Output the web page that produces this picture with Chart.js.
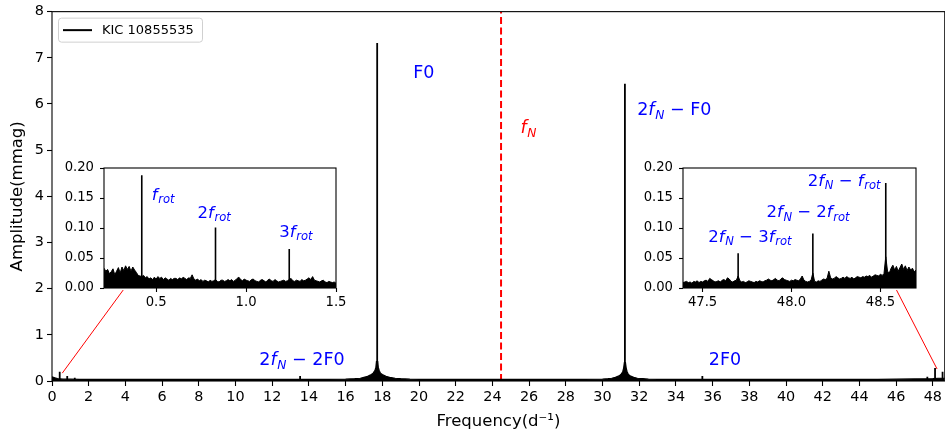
<!DOCTYPE html>
<html><head><meta charset="utf-8">
<script src="https://cdn.jsdelivr.net/npm/chart.js@4.4.0/dist/chart.umd.min.js"></script>
<style>
html,body{margin:0;padding:0;background:#fff;}
#wrap{position:relative;width:945px;height:435px;overflow:hidden;background:#fff;}
canvas{position:absolute;}
#main{left:0;top:0;width:945px;height:435px;}
#insL{left:60px;top:154px;width:290px;height:164px;}
#insR{left:640px;top:154px;width:300px;height:164px;}
</style></head><body>
<div id="wrap">
<canvas id="main" width="945" height="435"></canvas>
<canvas id="insL" width="290" height="164"></canvas>
<canvas id="insR" width="300" height="164"></canvas>
</div>
<script>
// ---------------- DATA ----------------
const seriesName = 'KIC 10855535';
const nyquist = 24.47;

// main spectrum continuum (noise + leakage wings), d^-1 and mmag
const mainFreq = [0.00,0.15,0.30,0.60,1.00,1.50,
  2,3,4,5,6,7,8,9,10,11,12,13,14,15,16,
  16.5,16.8,17.0,17.2,17.4,17.5,17.6,17.65,17.68,17.75,17.78,17.83,17.9,18.0,18.2,18.4,18.7,19.0,19.5,
  20,21,22,23,24,25,26,27,28,29,30,
  30.3,30.5,30.7,30.9,31.0,31.1,31.15,31.19,31.25,31.29,31.34,31.4,31.5,31.7,31.9,32.2,32.5,
  33,34,35,36,37,38,39,40,41,42,43,44,45,46,47,48,
  48.3,48.65];
const mainAmp = [0.09,0.07,0.05,0.04,0.04,0.035,
  0.035,0.035,0.035,0.035,0.035,0.035,0.035,0.035,0.035,0.035,0.035,0.035,0.035,0.035,0.04,
  0.05,0.06,0.08,0.10,0.14,0.17,0.23,0.30,0.42,0.42,0.30,0.23,0.17,0.14,0.10,0.08,0.06,0.05,0.04,
  0.035,0.035,0.035,0.035,0.035,0.035,0.035,0.035,0.035,0.035,0.04,
  0.05,0.06,0.08,0.11,0.14,0.20,0.28,0.40,0.40,0.28,0.20,0.15,0.11,0.08,0.06,0.05,0.04,
  0.035,0.035,0.035,0.035,0.035,0.035,0.035,0.035,0.035,0.035,0.035,0.035,0.035,0.04,0.045,0.05,
  0.06,0.06];

// main spectrum peaks
const mainPeakFreq = [0.42,0.83,1.24,13.52,17.72,31.22,35.44,47.70,48.12,48.53];
const mainPeakAmp  = [0.20,0.11,0.07,0.11,7.32,6.44,0.11,0.09,0.28,0.20];

// zoom connector lines (main-axis data coordinates)
const connLeftX = [0.56,3.88],   connLeftY = [0.17,1.97];
const connRightX = [46.02,48.23], connRightY = [1.97,0.26];

// tick labels
const mainXTicks = [0,2,4,6,8,10,12,14,16,18,20,22,24,26,28,30,32,34,36,38,40,42,44,46,48];
const mainYTicks = [0,1,2,3,4,5,6,7,8];
const insetYTicks = [0,0.05,0.10,0.15,0.20];
const insetLeftXTicks = [0.5,1.0,1.5];
const insetRightXTicks = [47.5,48.0,48.5];

// left inset (low-frequency) noise, sampled from 0.21 d^-1 every 0.01 d^-1
const insetLeftStart = 0.21, insetStep = 0.01;
const insetLeftAmp = [
 0.033,0.028,0.031,0.024,0.027,0.032,0.022,0.028,0.034,0.025,
 0.035,0.029,0.037,0.031,0.036,0.028,0.035,0.030,0.026,0.021,
 0.020,0.019,0.021,0.017,0.019,0.015,0.017,0.014,0.018,0.015,
 0.019,0.016,0.018,0.014,0.017,0.015,0.013,0.016,0.014,0.016,
 0.016,0.014,0.017,0.015,0.018,0.016,0.014,0.017,0.016,0.022,
 0.015,0.013,0.015,0.012,0.014,0.011,0.013,0.012,0.010,0.013,
 0.011,0.012,0.014,0.011,0.010,0.013,0.013,0.011,0.012,0.014,
 0.012,0.014,0.011,0.013,0.016,0.018,0.014,0.012,0.015,0.013,
 0.012,0.011,0.014,0.015,0.012,0.011,0.010,0.013,0.014,0.012,
 0.010,0.013,0.015,0.012,0.011,0.014,0.012,0.010,0.011,0.012,
 0.013,0.011,0.012,0.014,0.016,0.012,0.011,0.013,0.012,0.011,
 0.014,0.012,0.013,0.015,0.017,0.014,0.019,0.013,0.012,0.011,
 0.010,0.012,0.013,0.010,0.009,0.011,0.010,0.009,0.010,0.008];
const insetLeftPeakFreq = [0.42,0.83,1.24];
const insetLeftPeakAmp  = [0.188,0.101,0.065];

// right inset (near 2 fN) noise, sampled from 47.39 d^-1 every 0.01 d^-1
const insetRightStart = 47.39;
const insetRightAmp = [
 0.009,0.010,0.011,0.009,0.010,0.008,0.011,0.010,0.012,0.009,
 0.011,0.010,0.012,0.013,0.011,0.016,0.014,0.012,0.010,0.011,
 0.012,0.010,0.013,0.014,0.012,0.017,0.015,0.011,0.010,0.012,
 0.013,0.020,0.012,0.010,0.011,0.009,0.010,0.012,0.011,0.010,
 0.009,0.011,0.010,0.012,0.011,0.010,0.012,0.013,0.015,0.013,
 0.012,0.014,0.016,0.013,0.012,0.015,0.017,0.014,0.013,0.012,
 0.011,0.013,0.012,0.014,0.013,0.012,0.015,0.020,0.013,0.011,
 0.010,0.011,0.013,0.025,0.011,0.010,0.012,0.011,0.013,0.015,
 0.014,0.016,0.028,0.017,0.015,0.016,0.019,0.017,0.015,0.016,
 0.018,0.016,0.019,0.017,0.016,0.018,0.015,0.017,0.019,0.018,
 0.017,0.019,0.018,0.020,0.019,0.021,0.018,0.020,0.022,0.021,
 0.020,0.023,0.021,0.024,0.052,0.028,0.025,0.033,0.038,0.030,
 0.036,0.028,0.034,0.040,0.031,0.037,0.029,0.035,0.030,0.033,
 0.027,0.030];
const insetRightPeakFreq = [47.70,48.12,48.53];
const insetRightPeakAmp  = [0.058,0.091,0.175];

// ---------------- HELPERS ----------------
const FAM = '"DejaVu Sans", "Noto Sans", sans-serif';
const pts = (xs, ys) => xs.map((x, i) => ({x, y: ys[i]}));
const gridPts = (start, step, ys) => ys.map((y, i) => ({x: +(start + i*step).toFixed(4), y}));
const spikePts = (fs, as) => { const o = []; fs.forEach((f, i) => { o.push({x:f,y:0},{x:f,y:as[i]},{x:f,y:0}); }); return o; };
const setTicks = arr => (s => { s.ticks = arr.map(v => ({value: v})); });

function drawMath(ctx, segs, x, y, size, color) {
  ctx.save();
  ctx.fillStyle = color;
  ctx.textBaseline = 'alphabetic';
  ctx.textAlign = 'left';
  let cx = x;
  for (const [t, st] of segs) {
    let f, dy = 0;
    if (st === 'n') f = `${size}px ${FAM}`;
    else if (st === 'i') f = `italic ${size}px ${FAM}`;
    else { f = `italic ${size*0.7}px ${FAM}`; dy = size*0.2; }
    ctx.font = f;
    ctx.fillText(t, cx, y + dy);
    cx += ctx.measureText(t).width + (st === 'i' ? size*0.04 : 0);
  }
  ctx.restore();
}

function labelPlugin(labels) {
  return {
    id: 'mlabels',
    afterDatasetsDraw(chart) {
      const {ctx, scales} = chart;
      labels.forEach(l => drawMath(ctx, l.segs, scales.x.getPixelForValue(l.x), scales.y.getPixelForValue(l.y), l.size, l.color));
    }
  };
}
const framePlugin = {
  id: 'frame',
  beforeDraw(chart, args, opts) {
    if (opts && opts.fill) {
      const a = chart.chartArea, c = chart.ctx;
      c.save(); c.fillStyle = '#fff'; c.fillRect(a.left, a.top, a.right - a.left, a.bottom - a.top); c.restore();
    }
  },
  afterDatasetsDraw(chart) {
    const a = chart.chartArea, c = chart.ctx;
    c.save(); c.strokeStyle = '#000'; c.lineWidth = 1.1;
    c.strokeRect(a.left, a.top, a.right - a.left, a.bottom - a.top); c.restore();
  }
};
const legendPlugin = {
  id: 'boxlegend',
  afterDraw(chart) {
    const c = chart.ctx, a = chart.chartArea;
    const x0 = a.left + 6, y0 = a.top + 6, w = 144, h = 24, r = 3;
    c.save();
    c.fillStyle = 'rgba(255,255,255,0.8)'; c.strokeStyle = '#d0d0d0'; c.lineWidth = 1;
    c.beginPath(); c.roundRect(x0 + 0.5, y0 + 0.5, w, h, r); c.fill(); c.stroke();
    c.strokeStyle = '#000'; c.lineWidth = 2;
    c.beginPath(); c.moveTo(x0 + 5, y0 + 12.5); c.lineTo(x0 + 34, y0 + 12.5); c.stroke();
    c.fillStyle = '#000'; c.font = `13px ${FAM}`; c.textBaseline = 'middle';
    c.fillText(seriesName, x0 + 44, y0 + 13);
    c.restore();
  }
};

const axisBase = (min, max, ticks, fontSize, tickLen, pad, fmt) => ({
  type: 'linear', min, max,
  afterBuildTicks: setTicks(ticks),
  ticks: {font: {family: FAM, size: fontSize}, color: '#000', padding: pad, maxRotation: 0, autoSkip: false,
          callback: fmt || (v => String(v))},
  grid: {drawOnChartArea: false, drawTicks: true, tickLength: tickLen, tickColor: '#000', tickWidth: 1.1},
  border: {display: false}
});

// ---------------- MAIN CHART ----------------
const BLUE = '#0000ff';
new Chart(document.getElementById('main'), {
  type: 'line',
  data: {datasets: [
    {data: pts(mainFreq, mainAmp), borderColor: '#000', borderWidth: 1.2, backgroundColor: '#000', fill: 'origin', pointRadius: 0, tension: 0},
    {data: spikePts(mainPeakFreq, mainPeakAmp), borderColor: '#000', borderWidth: 1.8, fill: false, pointRadius: 0},
    {data: [{x: nyquist, y: 0}, {x: nyquist, y: 8}], borderColor: '#ff0000', borderWidth: 2, borderDash: [7, 3.5], pointRadius: 0, fill: false},
    {data: pts(connLeftX, connLeftY), borderColor: '#ff0000', borderWidth: 1, pointRadius: 0, fill: false},
    {data: pts(connRightX, connRightY), borderColor: '#ff0000', borderWidth: 1, pointRadius: 0, fill: false}
  ]},
  options: {
    responsive: false, animation: false, events: [],
    layout: {padding: {top: 8, right: 0, left: 0, bottom: 0}},
    plugins: {legend: {display: false}, tooltip: {enabled: false}},
    scales: {
      x: Object.assign(axisBase(0, 48.65, mainXTicks, 14.4, 5, 3), {
        title: {display: true, text: 'Frequency(d\u207B\u00B9)', color: '#000', font: {family: FAM, size: 16.5}, padding: {top: 0, bottom: 3}},
        afterFit: s => { s.height = 54; }
      }),
      y: Object.assign(axisBase(0, 8, mainYTicks, 14.4, 5, 3), {
        title: {display: true, text: 'Amplitude(mmag)', color: '#000', font: {family: FAM, size: 16.5}, padding: {top: 8, bottom: 0}},
        afterFit: s => { s.width = 52; }
      })
    }
  },
  plugins: [framePlugin, legendPlugin, labelPlugin([
    {segs: [['F0', 'n']], x: 19.68, y: 6.56, size: 17.5, color: BLUE},
    {segs: [['f', 'i'], ['N', 's']], x: 25.53, y: 5.37, size: 17.5, color: '#ff0000'},
    {segs: [['2', 'n'], ['f', 'i'], ['N', 's'], [' \u2212 F0', 'n']], x: 31.89, y: 5.76, size: 17.5, color: BLUE},
    {segs: [['2', 'n'], ['f', 'i'], ['N', 's'], [' \u2212 2F0', 'n']], x: 11.30, y: 0.343, size: 17.5, color: BLUE},
    {segs: [['2F0', 'n']], x: 35.79, y: 0.343, size: 17.5, color: BLUE}
  ])]
});

// ---------------- INSETS ----------------
function inset(id, start, amps, pf, pa, xmin, xmax, xticks, yW, padR, labels) {
  new Chart(document.getElementById(id), {
    type: 'line',
    data: {datasets: [
      {data: gridPts(start, insetStep, amps), borderColor: '#000', borderWidth: 1, backgroundColor: '#000', fill: 'origin', pointRadius: 0, tension: 0},
      {data: spikePts(pf, pa), borderColor: '#000', borderWidth: 1.6, fill: false, pointRadius: 0}
    ]},
    options: {
      responsive: false, animation: false, events: [],
      layout: {padding: {top: 14, right: padR, left: 0, bottom: 0}},
      plugins: {legend: {display: false}, tooltip: {enabled: false}, frame: {fill: true}},
      scales: {
        x: Object.assign(axisBase(xmin, xmax, xticks, 13.2, 4, 3, v => v.toFixed(1)), {afterFit: s => { s.height = 30; }}),
        y: Object.assign(axisBase(0, 0.2, insetYTicks, 13.2, 4, 6, v => v.toFixed(2)), {afterFit: s => { s.width = yW; }})
      }
    },
    plugins: [framePlugin, labelPlugin(labels)]
  });
}
const rot = [['rot', 's']];
inset('insL', insetLeftStart, insetLeftAmp, insetLeftPeakFreq, insetLeftPeakAmp, 0.21, 1.5, insetLeftXTicks, 44, 14, [
  {segs: [['f', 'i'], ...rot], x: 0.475, y: 0.147, size: 16.5, color: BLUE},
  {segs: [['2', 'n'], ['f', 'i'], ...rot], x: 0.73, y: 0.117, size: 16.5, color: BLUE},
  {segs: [['3', 'n'], ['f', 'i'], ...rot], x: 1.184, y: 0.0855, size: 16.5, color: BLUE}
]);
inset('insR', insetRightStart, insetRightAmp, insetRightPeakFreq, insetRightPeakAmp, 47.39, 48.70, insetRightXTicks, 43, 24, [
  {segs: [['2', 'n'], ['f', 'i'], ['N', 's'], [' \u2212 ', 'n'], ['f', 'i'], ...rot], x: 48.092, y: 0.170, size: 16.5, color: BLUE},
  {segs: [['2', 'n'], ['f', 'i'], ['N', 's'], [' \u2212 2', 'n'], ['f', 'i'], ...rot], x: 47.859, y: 0.118, size: 16.5, color: BLUE},
  {segs: [['2', 'n'], ['f', 'i'], ['N', 's'], [' \u2212 3', 'n'], ['f', 'i'], ...rot], x: 47.532, y: 0.077, size: 16.5, color: BLUE}
]);
</script>
</body></html>
